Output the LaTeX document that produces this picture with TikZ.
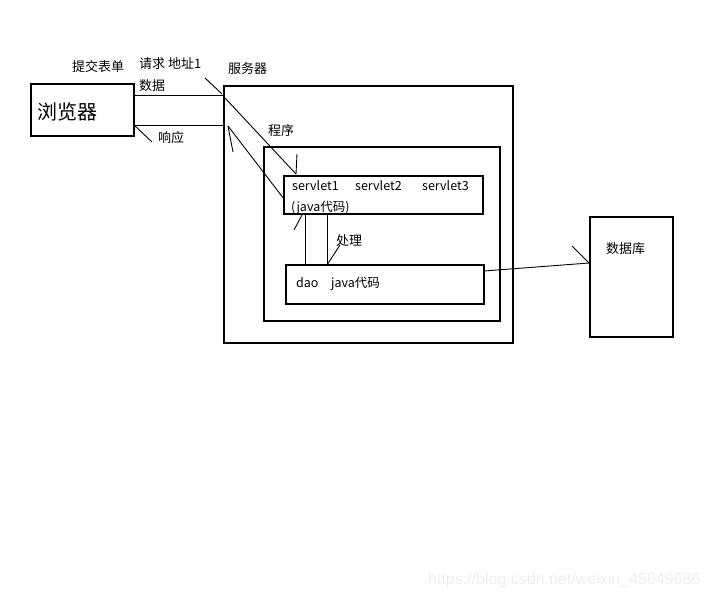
\documentclass[tikz,border=0pt]{standalone}
\usepackage{fontspec}
\setmainfont{Noto Sans CJK SC}
\begin{document}
\begin{tikzpicture}[x=1pt,y=-1pt,
  box/.style={draw, line width=2pt, inner sep=0pt, outer sep=0pt},
  txt/.style={inner sep=0pt, anchor=west, font=\fontsize{13}{15}\selectfont},
  conn/.style={line width=0.9pt}]
\useasboundingbox (0,0) rectangle (710,599);
% boxes
\node[box, minimum width=103pt, minimum height=52pt] (browser) at (82.5,110) {};
\node[box, minimum width=289pt, minimum height=257pt] (server) at (368.5,214.5) {};
\node[box, minimum width=236pt, minimum height=174pt] (program) at (382,234) {};
\node[box, minimum width=199pt, minimum height=38pt] (servlet) at (383.5,195) {};
\node[box, minimum width=198pt, minimum height=39pt] (dao) at (385,284.5) {};
\node[box, minimum width=83pt, minimum height=120pt] (db) at (631.5,277) {};
% texts
\node[txt, font=\fontsize{20}{22}\selectfont] (tbrowser) at (37,112) {浏览器};
\node[txt] (tsubmit) at (72,67) {提交表单};
\node[txt] (treq) at (139,64) {请求 地址1};
\node[txt] (tdata) at (139,86) {数据};
\node[txt] (tserver) at (228,69) {服务器};
\node[txt] (tresp) at (158,138) {响应};
\node[txt] (tprog) at (268,131) {程序};
\node[txt, font=\fontsize{12.5}{14}\selectfont] (ts1) at (292,186) {servlet1};
\node[txt, font=\fontsize{12.5}{14}\selectfont] (ts2) at (355,186) {servlet2};
\node[txt, font=\fontsize{12.5}{14}\selectfont] (ts3) at (422,186) {servlet3};
\node[txt, font=\fontsize{12.5}{14}\selectfont] (tjava) at (291,208) {(java代码)};
\node[txt] (tproc) at (336,241) {处理};
\node[txt, font=\fontsize{12.5}{14}\selectfont] (tdao) at (296,284) {dao\hspace{1em}java代码};
\node[txt] (tdb) at (606,249) {数据库};
\node[txt, text=black!7, font=\fontsize{16}{18}\selectfont\fontspec{Liberation Sans}] (wm) at (428,580) {https://blog.csdn.net/weixin\_45649686};
% connector points
\coordinate (reqEnd) at (224,95);
\coordinate (reqTip) at (222,94);
\coordinate (reqHead) at (205,78);
\coordinate (reqStart2) at (225,98);
\coordinate (s1Tip) at (296,174);
\coordinate (s1Head) at (297,154);
\coordinate (respStart) at (224,125);
\coordinate (respTip) at (228,126);
\coordinate (respHead) at (233,152);
\coordinate (bTip) at (134,125);
\coordinate (bHead) at (152,142);
\coordinate (upTip) at (302,215);
\coordinate (upHead) at (294,230);
\coordinate (procTip) at (340,245);
\coordinate (dbTip) at (589,263);
\coordinate (dbHead) at (572,246);
% request
\draw[conn] (browser.east |- reqEnd) -- (reqEnd);
\draw[conn] (reqHead) -- (reqTip);
\draw[conn] (reqStart2) -- (s1Tip);
\draw[conn] (s1Head) -- (s1Tip);
% response
\draw[conn] (servlet.west |- 0,199) -- (respTip);
\draw[conn] (respTip) -- (respHead);
\draw[conn] (respStart) -- (bTip);
\draw[conn] (bTip) -- (bHead);
% servlet - dao
\draw[conn] (servlet.south -| 305,0) -- (dao.north -| 305,0);
\draw[conn] (servlet.south -| 327,0) -- (dao.north -| 327,0);
\draw[conn] (upTip) -- (upHead);
\draw[conn] (dao.north -| 327,0) -- (procTip);
% dao - db
\draw[conn] (dao.east |- 0,271) -- (dbTip);
\draw[conn] (dbHead) -- (dbTip);
\end{tikzpicture}
\end{document}
